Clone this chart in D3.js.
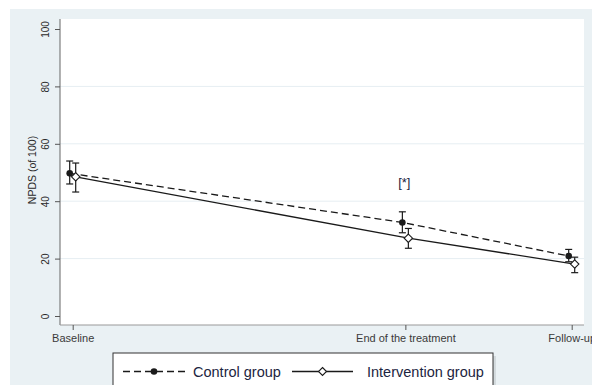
<!DOCTYPE html>
<html>
<head>
<meta charset="utf-8">
<script src="https://cdn.jsdelivr.net/npm/d3@7"></script>
<style>
  html, body { margin: 0; padding: 0; background: #ffffff; }
  svg { display: block; font-family: "Liberation Sans", Arial, sans-serif; }
</style>
</head>
<body>
<svg id="chart" width="592" height="385"></svg>
<script>
// Time points (months from baseline) and their labels
const timePoints = [0, 2, 3];
const timeLabels = ["Baseline", "End of the treatment", "Follow-up"];

// Mean NPDS scores with 95% CI bounds
const controlMean = [49.7, 32.6, 20.9];
const controlLow  = [46.0, 29.0, 18.9];
const controlHigh = [54.0, 36.3, 23.2];

const interventionMean = [48.5, 27.1, 18.1];
const interventionLow  = [43.2, 23.6, 15.1];
const interventionHigh = [53.3, 30.5, 20.5];

const yTicks = [0, 20, 40, 60, 80, 100];
const seriesNames = ["Control group", "Intervention group"];
const significanceMark = { time: 2, value: 45, text: "[*]" };

const svg = d3.select("#chart");

// outer panel background
svg.append("rect").attr("x", 10).attr("y", 9).attr("width", 582).attr("height", 376)
  .attr("fill", "#eaf1f4");

// plot region
const plotLeft = 60, plotRight = 584, plotTop = 19, plotBottom = 325;
svg.append("rect").attr("x", plotLeft).attr("y", plotTop)
  .attr("width", plotRight - plotLeft).attr("height", plotBottom - plotTop)
  .attr("fill", "#ffffff");

const x = d3.scaleLinear().domain([0, 3]).range([72.7, 571.7]);
const y = d3.scaleLinear().domain([0, 100]).range([316, 29]);

// horizontal grid
svg.append("g").selectAll("line").data(yTicks.filter(d => d > 0 && d < 100)).join("line")
  .attr("x1", plotLeft).attr("x2", plotRight)
  .attr("y1", d => y(d)).attr("y2", d => y(d))
  .attr("stroke", "#e6eef2").attr("stroke-width", 1);

// y axis
const yAxis = svg.append("g").attr("transform", `translate(${plotLeft},0)`)
  .call(d3.axisLeft(y).tickValues(yTicks).tickSize(5).tickPadding(0).tickFormat(d3.format("d")));
yAxis.select(".domain").attr("d", `M0,${plotTop}V${plotBottom}`).attr("stroke", "#666");
yAxis.selectAll(".tick line").attr("stroke", "#555");
yAxis.selectAll(".tick text")
  .attr("x", 0).attr("dy", 0)
  .attr("transform", "translate(-11.5,0) rotate(-90)")
  .attr("text-anchor", "middle")
  .attr("fill", "#2a2a2a").attr("font-size", 10);

// y title
svg.append("text").attr("transform", "translate(36,170) rotate(-90)")
  .attr("text-anchor", "middle").attr("font-size", 10.5).attr("fill", "#2a2a2a")
  .text("NPDS (of 100)");

// x axis
const xAxis = svg.append("g").attr("transform", `translate(0,${plotBottom})`)
  .call(d3.axisBottom(x).tickValues(timePoints).tickSize(5).tickPadding(4)
    .tickFormat((d, i) => timeLabels[i]));
xAxis.select(".domain").attr("d", `M${plotLeft},0H${plotRight}`).attr("stroke", "#999");
xAxis.selectAll(".tick line").attr("stroke", "#555");
xAxis.selectAll(".tick text").attr("fill", "#3a3a3a").attr("font-size", 11);

// series
const series = [
  { name: seriesNames[0], mean: controlMean, lo: controlLow, hi: controlHigh, dx: -3, dash: "7,4", marker: "dot" },
  { name: seriesNames[1], mean: interventionMean, lo: interventionLow, hi: interventionHigh, dx: 3, dash: null, marker: "diamond" }
];

const ink = "#1a1a1a";
const diamondPath = r => `M0,${-r}L${r},0L0,${r}L${-r},0Z`;

series.forEach(s => {
  const pts = timePoints.map((t, i) => ({ t, m: s.mean[i], lo: s.lo[i], hi: s.hi[i] }));
  const line = d3.line().x(d => x(d.t) + s.dx).y(d => y(d.m));
  svg.append("path").datum(pts).attr("d", line).attr("fill", "none")
    .attr("stroke", ink).attr("stroke-width", 1.3)
    .attr("stroke-dasharray", s.dash);

  const g = svg.append("g");
  // error bars
  pts.forEach(d => {
    const cx = x(d.t) + s.dx;
    g.append("line").attr("x1", cx).attr("x2", cx).attr("y1", y(d.lo)).attr("y2", y(d.hi))
      .attr("stroke", ink).attr("stroke-width", 1.2);
    [d.lo, d.hi].forEach(v => {
      g.append("line").attr("x1", cx - 3.5).attr("x2", cx + 3.5).attr("y1", y(v)).attr("y2", y(v))
        .attr("stroke", ink).attr("stroke-width", 1.2);
    });
  });
  // markers
  pts.forEach(d => {
    const cx = x(d.t) + s.dx, cy = y(d.m);
    if (s.marker === "dot") {
      g.append("circle").attr("cx", cx).attr("cy", cy).attr("r", 3.3).attr("fill", ink);
    } else {
      g.append("path").attr("d", diamondPath(4.2)).attr("transform", `translate(${cx},${cy})`)
        .attr("fill", "#fff").attr("stroke", ink).attr("stroke-width", 1.1);
    }
  });
});

// significance annotation
svg.append("text").attr("x", x(significanceMark.time) - 1).attr("y", y(significanceMark.value))
  .attr("text-anchor", "middle").attr("font-size", 13).attr("fill", "#1c2440")
  .text(significanceMark.text);

// legend
const lg = svg.append("g");
lg.append("rect").attr("x", 116).attr("y", 356).attr("width", 380).attr("height", 40)
  .attr("fill", "#d3dadd");
lg.append("rect").attr("x", 113).attr("y", 353).attr("width", 380).attr("height", 40)
  .attr("fill", "#fff").attr("stroke", "#333").attr("stroke-width", 1);

const legendItems = [
  { s: series[0], x0: 123, x1: 185, tx: 193 },
  { s: series[1], x0: 292, x1: 353, tx: 367 }
];
legendItems.forEach(it => {
  const ly = 371.5;
  lg.append("line").attr("x1", it.x0).attr("x2", it.x1).attr("y1", ly).attr("y2", ly)
    .attr("stroke", ink).attr("stroke-width", 1.3).attr("stroke-dasharray", it.s.dash);
  const cx = (it.x0 + it.x1) / 2;
  if (it.s.marker === "dot") {
    lg.append("circle").attr("cx", cx).attr("cy", ly).attr("r", 3.3).attr("fill", ink);
  } else {
    lg.append("path").attr("d", diamondPath(4)).attr("transform", `translate(${cx},${ly})`)
      .attr("fill", "#fff").attr("stroke", ink).attr("stroke-width", 1.1);
  }
  lg.append("text").attr("x", it.tx).attr("y", ly + 5).attr("font-size", 14.5)
    .attr("fill", "#1c2440").text(it.s.name);
});
</script>
</body>
</html>
